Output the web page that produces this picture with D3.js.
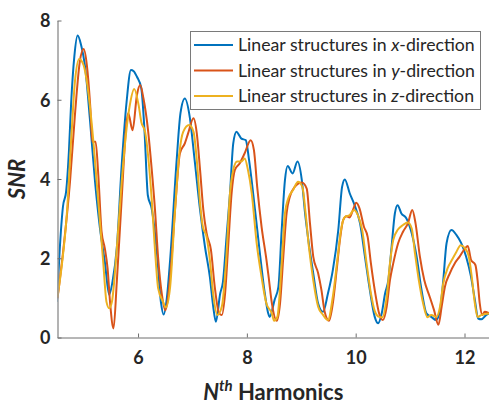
<!DOCTYPE html>
<html lang="en">
<head>
    <meta charset="UTF-8">
    <title>SNR vs Harmonics</title>
    <style>
        body { margin: 0; background: #fff; }
        svg { display: block; }
        text { font-family: Lato, "Open Sans", sans-serif; fill: #262626; }
        .tick-label { font-size: 18px; font-weight: bold; }
        .legend-text { font-size: 17.7px; }
    </style>
</head>
<body>
    <div id="chart"></div>

    <script src="https://d3js.org/d3.v7.min.js"></script>
    <script>
        // Data: [harmonic, SNR]
        const xDirection = [
            [4.51, 0.90], [4.56, 2.2], [4.62, 3.3], [4.68, 3.7], [4.73, 4.7], [4.77, 5.9], [4.83, 7.1],
            [4.89, 7.62], [4.95, 7.4], [5.03, 6.79], [5.12, 5.44], [5.21, 3.93], [5.30, 2.76], [5.39, 1.91],
            [5.47, 1.08], [5.53, 1.4], [5.61, 2.26], [5.70, 4.35], [5.79, 5.95], [5.87, 6.75], [5.92, 6.72],
            [5.98, 6.58], [6.06, 6.29], [6.12, 5.19], [6.18, 3.59], [6.25, 3.26], [6.34, 2.26], [6.42, 0.9],
            [6.47, 0.58], [6.53, 1.0], [6.59, 1.96], [6.71, 4.48], [6.78, 5.66], [6.86, 6.03], [6.95, 5.57],
            [7.04, 4.48], [7.14, 3.22], [7.23, 2.29], [7.32, 1.53], [7.38, 0.8], [7.43, 0.40], [7.51, 1.11],
            [7.56, 1.4], [7.63, 2.6], [7.69, 3.64], [7.75, 4.90], [7.81, 5.19], [7.86, 5.1], [7.90, 5.02],
            [7.98, 4.98], [8.04, 4.48], [8.15, 3.22], [8.24, 2.12], [8.33, 1.11], [8.39, 0.62], [8.42, 0.52],
            [8.51, 0.95], [8.58, 1.28], [8.64, 2.71], [8.70, 3.97], [8.75, 4.33], [8.84, 4.14], [8.93, 4.44],
            [9.01, 3.97], [9.07, 3.13], [9.13, 2.46], [9.22, 1.62], [9.31, 0.86], [9.40, 0.65], [9.49, 1.11],
            [9.58, 1.70], [9.68, 2.71], [9.75, 3.80], [9.80, 3.99], [9.89, 3.64], [9.98, 3.34], [10.08, 2.88],
            [10.17, 2.04], [10.26, 1.20], [10.35, 0.52], [10.41, 0.36], [10.48, 0.62], [10.54, 1.11],
            [10.60, 1.45], [10.66, 2.29], [10.72, 3.13], [10.77, 3.34], [10.84, 3.13], [10.93, 3.01],
            [11.03, 2.63], [11.12, 2.04], [11.21, 1.20], [11.30, 0.61], [11.39, 0.52], [11.48, 0.44],
            [11.55, 0.69], [11.61, 1.45], [11.67, 2.38], [11.76, 2.71], [11.85, 2.59], [11.94, 2.38],
            [12.03, 2.04], [12.12, 1.53], [12.19, 0.95], [12.25, 0.48], [12.31, 0.46], [12.40, 0.57], [12.46, 0.62]
        ];

        const yDirection = [
            [4.52, 0.99], [4.63, 2.25], [4.75, 3.93], [4.84, 5.61], [4.93, 6.96], [5.00, 7.28], [5.06, 6.87],
            [5.12, 5.87], [5.16, 4.94], [5.22, 4.94], [5.27, 4.10], [5.33, 2.67], [5.39, 2.25], [5.44, 1.75],
            [5.49, 0.82], [5.55, 0.23], [5.61, 1.41], [5.70, 3.51], [5.79, 5.44], [5.82, 5.66], [5.90, 5.23],
            [5.98, 6.12], [6.04, 6.37], [6.10, 6.03], [6.18, 5.28], [6.25, 4.27], [6.31, 3.26], [6.37, 2.00],
            [6.44, 1.07], [6.50, 0.69], [6.59, 1.53], [6.68, 3.22], [6.77, 4.65], [6.86, 4.90], [6.92, 5.15],
            [7.02, 5.53], [7.08, 5.15], [7.14, 4.23], [7.20, 3.22], [7.26, 2.63], [7.34, 2.21], [7.41, 1.28],
            [7.49, 0.61], [7.54, 0.57], [7.60, 1.11], [7.66, 2.38], [7.72, 3.64], [7.78, 4.23], [7.87, 4.40],
            [7.96, 4.65], [8.07, 4.98], [8.13, 4.73], [8.19, 3.80], [8.27, 2.80], [8.36, 1.96], [8.40, 1.53],
            [8.46, 0.86], [8.55, 0.42], [8.61, 0.86], [8.67, 2.04], [8.73, 3.13], [8.79, 3.55], [8.88, 3.80],
            [9.01, 3.91], [9.10, 3.76], [9.16, 2.88], [9.22, 2.04], [9.31, 1.62], [9.37, 1.20], [9.43, 0.65],
            [9.51, 0.42], [9.58, 0.86], [9.65, 1.70], [9.71, 2.46], [9.77, 2.96], [9.83, 3.06], [9.89, 3.03],
            [9.95, 3.22], [10.01, 3.40], [10.07, 3.26], [10.15, 2.80], [10.22, 2.54], [10.28, 1.87],
            [10.37, 1.03], [10.43, 0.61], [10.50, 0.44], [10.57, 0.78], [10.63, 1.45], [10.69, 1.87],
            [10.78, 2.38], [10.87, 2.67], [10.96, 2.88], [11.04, 3.22], [11.10, 2.88], [11.18, 2.04],
            [11.26, 1.45], [11.36, 1.03], [11.44, 0.69], [11.52, 0.32], [11.58, 0.78], [11.64, 1.28],
            [11.73, 1.62], [11.82, 1.87], [11.91, 2.04], [12.01, 2.25], [12.06, 2.31], [12.12, 1.96],
            [12.20, 1.83], [12.24, 1.45], [12.28, 0.86], [12.33, 0.57], [12.37, 0.65], [12.46, 0.61]
        ];

        const zDirection = [
            [4.52, 1.02], [4.60, 1.83], [4.69, 3.09], [4.78, 5.19], [4.84, 6.45], [4.92, 7.03], [5.00, 6.87],
            [5.06, 6.45], [5.12, 5.78], [5.18, 4.94], [5.24, 3.93], [5.30, 2.92], [5.36, 1.91], [5.42, 0.90],
            [5.47, 0.74], [5.52, 0.90], [5.61, 2.25], [5.70, 3.93], [5.79, 5.28], [5.85, 5.87], [5.93, 6.27],
            [6.01, 5.87], [6.06, 5.44], [6.13, 5.19], [6.19, 4.52], [6.25, 3.51], [6.31, 2.25], [6.37, 1.24],
            [6.46, 0.90], [6.51, 0.76], [6.59, 1.28], [6.68, 3.22], [6.76, 4.65], [6.83, 5.19], [6.94, 5.36],
            [7.02, 5.19], [7.08, 4.48], [7.14, 3.39], [7.19, 2.80], [7.26, 2.54], [7.32, 1.96], [7.38, 1.11],
            [7.46, 0.57], [7.54, 0.78], [7.62, 1.96], [7.69, 3.64], [7.75, 4.23], [7.82, 4.44], [7.90, 4.44],
            [7.96, 4.52], [8.02, 4.23], [8.09, 3.64], [8.18, 2.38], [8.27, 1.53], [8.36, 0.85], [8.46, 0.61],
            [8.50, 0.42], [8.56, 0.52], [8.64, 1.87], [8.70, 3.13], [8.76, 3.51], [8.85, 3.72], [8.94, 3.93],
            [9.02, 3.80], [9.08, 3.13], [9.14, 2.29], [9.22, 1.45], [9.31, 0.78], [9.40, 0.57], [9.49, 0.44],
            [9.58, 1.03], [9.67, 2.04], [9.73, 2.71], [9.80, 3.04], [9.89, 3.09], [9.97, 3.22], [10.04, 3.09],
            [10.12, 2.71], [10.20, 1.87], [10.28, 1.11], [10.35, 0.67], [10.43, 0.52], [10.49, 0.51],
            [10.57, 1.03], [10.63, 1.87], [10.69, 2.46], [10.78, 2.73], [10.87, 2.84], [10.96, 2.90],
            [11.03, 2.75], [11.09, 2.12], [11.16, 1.45], [11.24, 0.86], [11.32, 0.51], [11.39, 0.57],
            [11.48, 0.52], [11.55, 0.78], [11.61, 1.37], [11.69, 1.75], [11.77, 1.96], [11.85, 2.16],
            [11.93, 2.33], [12.01, 2.25], [12.08, 2.04], [12.14, 1.45], [12.19, 0.86], [12.24, 0.52],
            [12.31, 0.57], [12.46, 0.61]
        ];

        const seriesNames = ["x", "y", "z"];
        const seriesColors = ["#0072BD", "#D95319", "#EDB120"];
        const xTicks = [6, 8, 10, 12];
        const yTicks = [0, 2, 4, 6, 8];

        const width = 489, height = 405;
        const plot = { left: 57.5, right: 489, top: 20.5, bottom: 337.5 };

        const svg = d3.select("#chart").append("svg")
            .attr("width", width)
            .attr("height", height);

        const x = d3.scaleLinear().domain([4.52, 12.45]).range([plot.left, plot.right]);
        const y = d3.scaleLinear().domain([0, 8]).range([plot.bottom, plot.top]);

        svg.append("clipPath").attr("id", "plot-clip")
            .append("rect")
            .attr("x", plot.left).attr("y", 0)
            .attr("width", plot.right - plot.left).attr("height", plot.bottom + 2);

        // Curves
        const line = d3.line()
            .x(d => x(d[0]))
            .y(d => y(d[1]))
            .curve(d3.curveMonotoneX);

        const allSeries = [xDirection, yDirection, zDirection];
        svg.append("g").attr("clip-path", "url(#plot-clip)")
            .selectAll("path")
            .data(allSeries)
            .enter().append("path")
            .attr("d", line)
            .attr("fill", "none")
            .attr("stroke", (d, i) => seriesColors[i])
            .attr("stroke-width", 2)
            .attr("stroke-linejoin", "round");

        // Axes (MATLAB style, ticks pointing inward, no box)
        const xAxis = svg.append("g")
            .attr("transform", `translate(0,${plot.bottom})`)
            .call(d3.axisBottom(x).tickValues(xTicks).tickSizeInner(-4).tickSizeOuter(0).tickFormat(d3.format("d")));
        xAxis.select(".domain").attr("stroke", "#6e6e6e");
        xAxis.selectAll(".tick line").attr("stroke", "#6e6e6e");
        xAxis.selectAll(".tick text")
            .attr("class", "tick-label")
            .attr("y", 26)
            .attr("dy", null)
            .attr("fill", "#262626");

        const yAxis = svg.append("g")
            .attr("transform", `translate(${plot.left},0)`)
            .call(d3.axisLeft(y).tickValues(yTicks).tickSizeInner(-4).tickSizeOuter(0).tickFormat(d3.format("d")));
        yAxis.select(".domain").attr("stroke", "#9a9a9a").attr("stroke-width", 1.5);
        yAxis.selectAll(".tick line").attr("stroke", "#6e6e6e");
        yAxis.selectAll(".tick text")
            .attr("class", "tick-label")
            .attr("x", -7)
            .attr("dy", "0.36em")
            .attr("fill", "#262626");

        // Axis titles
        svg.append("text")
            .attr("transform", `translate(25,${(plot.top + plot.bottom) / 2}) rotate(-90)`)
            .attr("text-anchor", "middle")
            .style("font-size", "22px")
            .style("font-weight", "bold")
            .style("font-style", "italic")
            .text("SNR");

        const xTitle = svg.append("text")
            .attr("x", (plot.left + plot.right) / 2)
            .attr("y", 400)
            .attr("text-anchor", "middle")
            .style("font-size", "22px")
            .style("font-weight", "bold");
        xTitle.append("tspan").style("font-style", "italic").text("N");
        xTitle.append("tspan").style("font-style", "italic").style("font-size", "15px")
            .attr("dy", -9).text("th");
        xTitle.append("tspan").attr("dy", 9).text(" Harmonics");

        // Legend
        const legend = svg.append("g");
        legend.append("rect")
            .attr("x", 190.5).attr("y", 31.5)
            .attr("width", 290).attr("height", 78)
            .attr("fill", "#fff")
            .attr("stroke", "#7a7a7a")
            .attr("stroke-width", 1);

        seriesNames.forEach((name, i) => {
            const ly = 45 + i * 25.5;
            legend.append("line")
                .attr("x1", 194).attr("x2", 233)
                .attr("y1", ly).attr("y2", ly)
                .attr("stroke", seriesColors[i])
                .attr("stroke-width", 2);
            const t = legend.append("text")
                .attr("class", "legend-text")
                .attr("x", 238)
                .attr("y", ly + 6);
            t.append("tspan").text("Linear structures in ");
            t.append("tspan").style("font-style", "italic").text(name);
            t.append("tspan").text("-direction");
        });
    </script>
</body>
</html>
